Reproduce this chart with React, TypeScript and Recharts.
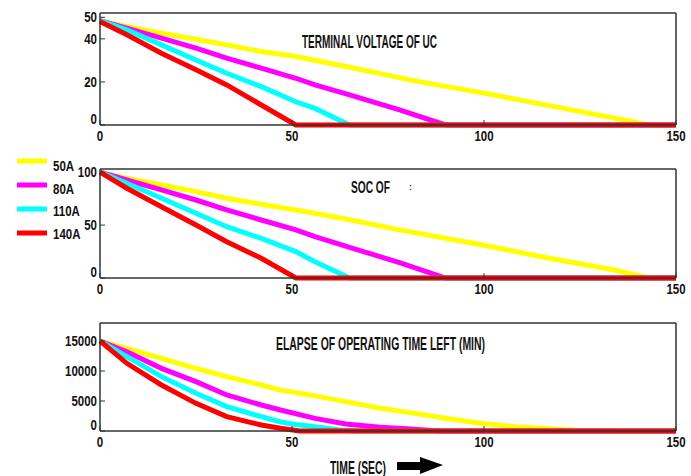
import { LineChart, Line, XAxis, YAxis } from 'recharts';

// shared x axis
const timeTicks = [0, 50, 100, 150];
const seriesNames = ['50A', '80A', '110A', '140A'];
const seriesColors = ['#FFFF00', '#FF00FF', '#00FFFF', '#FF0000'];

// terminal voltage of UC (V)
const voltTimes = [
  [0, 7, 16, 25, 33, 42, 51, 65, 82, 100, 117, 134, 143, 150],
  [0, 7, 16, 25, 33, 42, 51, 56, 65, 78, 90, 150],
  [0, 7, 16, 25, 33, 42, 51, 56, 65, 150],
  [0, 7, 16, 25, 33, 42, 51, 150],
];
const voltValues = [
  [48.5, 45.7, 42.6, 39.8, 37.2, 34.1, 31.8, 26.8, 20.5, 14.8, 9, 3.2, 0, 0],
  [48.5, 45, 40.3, 35.7, 31, 26.4, 21.7, 18.6, 14, 7, 0, 0],
  [48.5, 44.2, 37.2, 30.2, 24, 17.8, 10.8, 7.7, 0, 0],
  [48, 41.9, 33.3, 25.6, 18.6, 9.3, 0, 0],
];
const voltTicks = [0, 20, 40, 50];

// SOC (%)
const socTimes = [
  [0, 7, 16, 25, 33, 42, 51, 56, 65, 78, 100, 117, 134, 143, 150],
  [0, 7, 16, 25, 33, 42, 51, 56, 65, 78, 90, 150],
  [0, 7, 16, 25, 33, 42, 51, 56, 65, 150],
  [0, 7, 16, 25, 33, 42, 51, 150],
];
const socValues = [
  [100, 94.2, 87.9, 81.6, 75.3, 69.7, 64.3, 61.2, 55, 45.5, 31, 18.6, 7.5, 0, 0],
  [100, 92.6, 83.2, 73.7, 64.3, 54.8, 45.4, 39, 29, 14.5, 0, 0],
  [100, 89.5, 75.3, 61.2, 48.5, 37.5, 24.9, 15.4, 0, 0],
  [100, 84.8, 67.4, 50.1, 34.3, 18.6, 0, 0],
];
const socTicks = [0, 50, 100];

// operating time left (min)
const timeLeftTimes = [
  [0, 7, 16, 25, 33, 42, 47, 56, 64, 73, 82, 90, 99, 108, 115, 125, 135, 150],
  [0, 7, 16, 25, 33, 42, 47, 56, 64, 73, 82, 88, 150],
  [0, 7, 16, 25, 33, 42, 47, 51, 56, 62, 66, 150],
  [0, 7, 16, 25, 33, 42, 47, 52, 150],
];
const timeLeftValues = [
  [15000, 13780, 12110, 10440, 9060, 7670, 6830, 5850, 4890, 3780, 2940, 2110, 1280, 720, 450, 100, 0, 0],
  [15000, 13220, 10440, 8220, 6000, 4330, 3500, 2110, 1170, 610, 300, 0, 0],
  [15000, 12390, 9060, 6280, 4060, 2390, 1500, 1100, 700, 200, 0, 0],
  [15000, 11280, 7670, 4610, 2390, 1000, 450, 0, 0],
];
const timeLeftTicks = [0, 5000, 10000, 15000];

const fontFamily = "'Liberation Sans', Arial, sans-serif";
const squeeze = 0.82; // the original uses a condensed bold face
const frame = '#333';

const toSeries = (times: number[][], values: number[][]) =>
  times.map((ts, i) => ts.map((t, j) => ({ t, v: values[i][j] })));

const NarrowText = ({ x, y, anchor = 'start', dy = 0, size = 14, children }: any) => (
  <text
    transform={`translate(${x},${y}) scale(${squeeze},1)`}
    dy={dy}
    textAnchor={anchor}
    fill="#111"
    fontSize={size}
    fontWeight={700}
    fontFamily={fontFamily}
  >
    {children}
  </text>
);

const YTick = (props: any) => {
  const { x, y, payload } = props;
  // the zero labels sit a little above their tick in the original
  const shift = payload.value === 0 ? -6 : 0;
  return <NarrowText x={x} y={y + shift} dy="0.36em" anchor="end">{payload.value}</NarrowText>;
};

const XTick = (props: any) => {
  const { x, y, payload } = props;
  return <NarrowText x={x} y={y} dy="0.71em" anchor="middle">{payload.value}</NarrowText>;
};

interface PanelProps {
  top: number;
  height: number;
  marginTop: number;
  series: { t: number; v: number }[][];
  yMax: number;
  yTicks: number[];
}

const Panel = ({ top, height, marginTop, series, yMax, yTicks }: PanelProps) => (
  <div style={{ position: 'absolute', left: 0, top }}>
    <LineChart width={691} height={height} margin={{ top: marginTop - 1, right: 14, left: 60, bottom: 0 }}>
      <XAxis
        dataKey="t"
        type="number"
        domain={[0, 150]}
        ticks={timeTicks}
        interval={0}
        height={20}
        tickSize={-5}
        tickMargin={11}
        axisLine={{ stroke: frame, strokeWidth: 1.5 }}
        tickLine={{ stroke: frame }}
        tick={<XTick />}
      />
      <XAxis
        xAxisId="top"
        orientation="top"
        dataKey="t"
        type="number"
        domain={[0, 150]}
        ticks={timeTicks}
        interval={0}
        height={1}
        tickSize={-5}
        tick={false}
        axisLine={{ stroke: frame, strokeWidth: 1.5 }}
        tickLine={{ stroke: frame }}
      />
      <YAxis
        type="number"
        domain={[0, yMax]}
        ticks={yTicks}
        interval={0}
        width={40}
        tickSize={-5}
        tickMargin={8}
        axisLine={{ stroke: frame, strokeWidth: 1.5 }}
        tickLine={{ stroke: frame }}
        tick={<YTick />}
      />
      <YAxis
        yAxisId="right"
        orientation="right"
        type="number"
        domain={[0, yMax]}
        ticks={yTicks}
        interval={0}
        width={1}
        tickSize={-5}
        tick={false}
        axisLine={{ stroke: frame, strokeWidth: 1.5 }}
        tickLine={{ stroke: frame }}
      />
      {series.map((pts, i) => (
        <Line
          key={seriesNames[i]}
          data={pts}
          dataKey="v"
          name={seriesNames[i]}
          type="linear"
          stroke={seriesColors[i]}
          strokeWidth={5}
          dot={false}
          isAnimationActive={false}
        />
      ))}
    </LineChart>
  </div>
);

const titleStyle = { fill: '#111', fontWeight: 700, fontFamily } as const;

export default function App() {
  return (
    <div style={{ position: 'absolute', left: 0, top: 0, width: 691, height: 476, background: '#fff', overflow: 'hidden' }}>
      <Panel top={0} height={145} marginTop={13} series={toSeries(voltTimes, voltValues)} yMax={52} yTicks={voltTicks} />
      <Panel top={150} height={148} marginTop={19} series={toSeries(socTimes, socValues)} yMax={103} yTicks={socTicks} />
      <Panel top={305} height={146} marginTop={18} series={toSeries(timeLeftTimes, timeLeftValues)} yMax={18000} yTicks={timeLeftTicks} />

      <svg width={691} height={476} style={{ position: 'absolute', left: 0, top: 0, pointerEvents: 'none' }}>
        <text x={302} y={48} fontSize={18} textLength={135} lengthAdjust="spacingAndGlyphs" {...titleStyle}>
          TERMINAL VOLTAGE OF UC
        </text>
        <text x={351} y={193} fontSize={16} textLength={39} lengthAdjust="spacingAndGlyphs" {...titleStyle}>
          SOC OF
        </text>
        <text x={409} y={190} fontSize={9} {...titleStyle} fill="#234">:</text>
        <text x={276} y={350} fontSize={17.5} textLength={209} lengthAdjust="spacingAndGlyphs" {...titleStyle}>
          ELAPSE OF OPERATING TIME LEFT (MIN)
        </text>
        <text x={330} y={474} fontSize={18} textLength={56} lengthAdjust="spacingAndGlyphs" {...titleStyle}>
          TIME (SEC)
        </text>
        <polygon points="397,462 420,462 420,457 443,465 420,474 420,470 397,470" fill="#000" />

        {seriesNames.map((name, i) => (
          <g key={name}>
            <line x1={17} x2={47} y1={161 + i * 24} y2={161 + i * 24} stroke={seriesColors[i]} strokeWidth={5} />
            <NarrowText x={53} y={171 + i * 22.5}>{name}</NarrowText>
          </g>
        ))}
      </svg>
    </div>
  );
}
